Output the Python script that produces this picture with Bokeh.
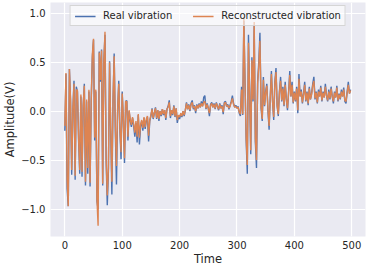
from bokeh.plotting import figure
from bokeh.models import Range1d, FixedTicker, CustomJSTickFormatter, Legend, LegendItem
from bokeh.embed import file_html
from bokeh.resources import INLINE

# sample index (every 2nd sample)
time = list(range(0, 500, 2))

real_vibration = [
    -0.2, 0.38, -0.79, -0.97, 0.43, 0.1, -0.65, 0.0, 0.31, -0.7,
    0.25, 0.2, -0.3, -0.64, 0.15, -0.67, 0.05, 0.28, -0.76, 0.1,
    -0.64, 0.2, -0.77, 0.1, 0.55, 0.73, -0.3, 0.2, -0.92, -1.0,
    0.61, 0.3, 0.63, -0.76, 0.51, 0.78, -0.5, -0.96, -0.6, 0.51,
    -0.2, -0.85, 0.1, 0.59, -0.2, -0.75, 0.0, 0.31, -0.2, -0.49,
    0.2, -0.1, -0.53, 0.1, 0.11, -0.3, 0.0, -0.1, -0.16, -0.07,
    -0.15, -0.26, -0.12, -0.32, -0.04, -0.34, -0.16, -0.1, -0.2, -0.07,
    -0.18, -0.1, -0.06, -0.31, -0.1, -0.05, 0.03, -0.08, -0.02, 0.04,
    -0.08, 0.01, -0.1, 0.0, -0.05, 0.02, -0.04, 0.01, -0.09, 0.02,
    0.05, 0.11, -0.07, 0.01, -0.04, 0.06, -0.06, 0.03, -0.12, -0.05,
    -0.08, -0.03, -0.06, 0.0, -0.05, 0.01, 0.09, 0.02, 0.07, 0.0,
    0.08, 0.11, 0.02, 0.06, -0.02, 0.07, 0.03, 0.08, 0.04, 0.1,
    0.05, 0.14, 0.16, 0.02, 0.08, 0.03, -0.05, 0.07, 0.09, 0.04,
    0.08, 0.02, 0.09, 0.05, 0.01, 0.08, 0.03, 0.06, -0.03, 0.09,
    0.1, 0.05, 0.07, 0.02, 0.06, 0.1, 0.16, 0.08, 0.04, 0.06,
    0.03, 0.05, -0.02, -0.05, 0.25, -0.04, 0.92, 0.3, -0.3, -0.64,
    0.78, 0.2, -0.44, 0.55, 0.1, 0.88, -0.31, -0.58, 0.3, 0.5,
    0.8, 0.03, -0.1, 0.35, 0.05, 0.2, 0.28, 0.0, -0.19, 0.15,
    0.41, 0.1, -0.09, 0.3, 0.44, 0.05, -0.05, 0.2, 0.35, 0.1,
    0.25, 0.05, 0.3, 0.12, 0.01, 0.2, 0.41, 0.15, 0.3, 0.08,
    0.2, 0.1, 0.25, -0.02, 0.38, 0.15, 0.22, 0.08, 0.18, 0.3,
    0.1, 0.2, 0.06, 0.25, 0.12, 0.18, 0.28, 0.35, 0.12, 0.2,
    0.08, 0.22, 0.15, 0.26, 0.1, 0.2, 0.14, 0.28, 0.16, 0.1,
    0.22, 0.12, 0.25, 0.15, 0.08, 0.2, 0.14, 0.26, 0.1, 0.18,
    0.12, 0.22, 0.15, 0.24, 0.1, 0.08, 0.2, 0.3, 0.18, 0.22,
]

reconstructed_vibration = [
    -0.15, 0.39, -0.7, -0.97, 0.43, 0.12, -0.6, 0.02, 0.28, -0.66,
    0.22, 0.21, -0.27, -0.6, 0.17, -0.62, 0.06, 0.26, -0.72, 0.12,
    -0.58, 0.22, -0.73, 0.12, 0.58, 0.74, -0.27, 0.22, -0.9, -1.17,
    0.6, 0.32, 0.62, -0.74, 0.5, 0.81, -0.48, -0.86, -0.58, 0.5,
    -0.18, -0.72, 0.12, 0.56, -0.17, -0.56, 0.02, 0.28, -0.18, -0.42,
    0.18, -0.08, -0.48, 0.1, 0.1, -0.26, 0.01, -0.08, -0.14, -0.06,
    -0.13, -0.22, -0.1, -0.26, -0.03, -0.27, -0.14, -0.09, -0.17, -0.06,
    -0.16, -0.08, -0.05, -0.25, -0.09, -0.04, 0.02, -0.07, -0.02, 0.03,
    -0.07, 0.01, -0.08, 0.0, -0.04, 0.02, -0.03, 0.01, -0.07, 0.02,
    0.04, 0.09, -0.05, 0.01, -0.03, 0.05, -0.05, 0.03, -0.09, -0.04,
    -0.06, -0.02, -0.05, 0.0, -0.04, 0.01, 0.08, 0.02, 0.06, 0.01,
    0.07, 0.09, 0.03, 0.05, 0.0, 0.06, 0.03, 0.07, 0.04, 0.08,
    0.05, 0.09, 0.1, 0.03, 0.07, 0.03, -0.02, 0.06, 0.08, 0.04,
    0.07, 0.03, 0.08, 0.05, 0.02, 0.07, 0.03, 0.05, -0.01, 0.08,
    0.09, 0.05, 0.06, 0.03, 0.05, 0.09, 0.13, 0.07, 0.04, 0.05,
    0.03, 0.04, -0.01, -0.03, 0.22, -0.03, 0.96, 0.28, -0.27, -0.55,
    0.7, 0.18, -0.4, 0.52, 0.12, 0.91, -0.28, -0.5, 0.28, 0.46,
    0.72, 0.05, -0.08, 0.32, 0.06, 0.19, 0.26, 0.02, -0.15, 0.14,
    0.38, 0.1, -0.06, 0.28, 0.4, 0.06, -0.03, 0.19, 0.31, 0.11,
    0.23, 0.06, 0.27, 0.12, 0.03, 0.19, 0.37, 0.15, 0.27, 0.09,
    0.19, 0.11, 0.23, 0.01, 0.33, 0.15, 0.2, 0.09, 0.17, 0.27,
    0.11, 0.19, 0.08, 0.23, 0.12, 0.17, 0.26, 0.31, 0.13, 0.19,
    0.09, 0.2, 0.15, 0.24, 0.11, 0.19, 0.14, 0.25, 0.16, 0.11,
    0.2, 0.13, 0.23, 0.15, 0.1, 0.19, 0.14, 0.24, 0.11, 0.17,
    0.13, 0.2, 0.15, 0.22, 0.11, 0.1, 0.19, 0.27, 0.18, 0.21,
]

x_ticks = [0, 100, 200, 300, 400, 500]
y_ticks = [-1.0, -0.5, 0.0, 0.5, 1.0]
series_labels = ["Real vibration", "Reconstructed vibration"]

FONT = "DejaVu Sans"
TXT = "#262626"

p = figure(width=366, height=268, output_backend="svg", toolbar_location=None,
           x_range=Range1d(-24.95, 523.95), y_range=Range1d(-1.28, 1.11),
           min_border_left=49, min_border_right=1, min_border_top=2, min_border_bottom=30)
p.background_fill_color = "#EAEAF2"
p.border_fill_color = "white"
p.outline_line_color = None

for ax in (p.xaxis[0], p.yaxis[0]):
    ax.axis_line_color = None
    ax.major_tick_line_color = None
    ax.minor_tick_line_color = None
    ax.major_tick_out = 0
    ax.major_tick_in = 0
    ax.minor_tick_out = 0
    ax.minor_tick_in = 0
    ax.major_label_text_font = FONT
    ax.major_label_text_font_size = "10px"
    ax.major_label_text_color = TXT
    ax.axis_label_text_font = FONT
    ax.axis_label_text_font_size = "11.5px"
    ax.axis_label_text_font_style = "normal"
    ax.axis_label_text_color = TXT

p.yaxis.major_label_standoff = 5
p.yaxis.axis_label_standoff = 1
p.xaxis.major_label_standoff = 4
p.xaxis.axis_label_standoff = 0

p.xaxis.ticker = FixedTicker(ticks=x_ticks)
p.yaxis.ticker = FixedTicker(ticks=y_ticks)
p.xaxis.formatter = CustomJSTickFormatter(code="return tick.toFixed(0);")
p.yaxis.formatter = CustomJSTickFormatter(
    code="return (tick < 0 ? '\u2212' : '') + Math.abs(tick).toFixed(1);")
p.xaxis.axis_label = "Time"
p.yaxis.axis_label = "Amplitude(V)"

p.xgrid.grid_line_color = "white"
p.ygrid.grid_line_color = "white"
p.xgrid.grid_line_width = 1.2
p.ygrid.grid_line_width = 1.2

r1 = p.line(time, real_vibration, line_color="#4C72B0", line_width=1.4)
r2 = p.line(time, reconstructed_vibration, line_color="#DD8452", line_width=1.4)

legend = Legend(items=[LegendItem(label=series_labels[0], renderers=[r1]),
                       LegendItem(label=series_labels[1], renderers=[r2])],
                location="top_center", orientation="horizontal")
legend.label_text_font = FONT
legend.label_text_font_size = "10px"
legend.label_text_color = TXT
legend.glyph_width = 21
legend.glyph_height = 10
legend.label_standoff = 8
legend.spacing = 20
legend.padding = 4
legend.margin = 3
legend.label_height = 10
legend.border_line_color = "#CCCCCC"
legend.border_line_alpha = 0.8
legend.background_fill_color = "white"
legend.background_fill_alpha = 0.6
p.add_layout(legend)

open("out.html", "w").write(file_html(p, INLINE))
